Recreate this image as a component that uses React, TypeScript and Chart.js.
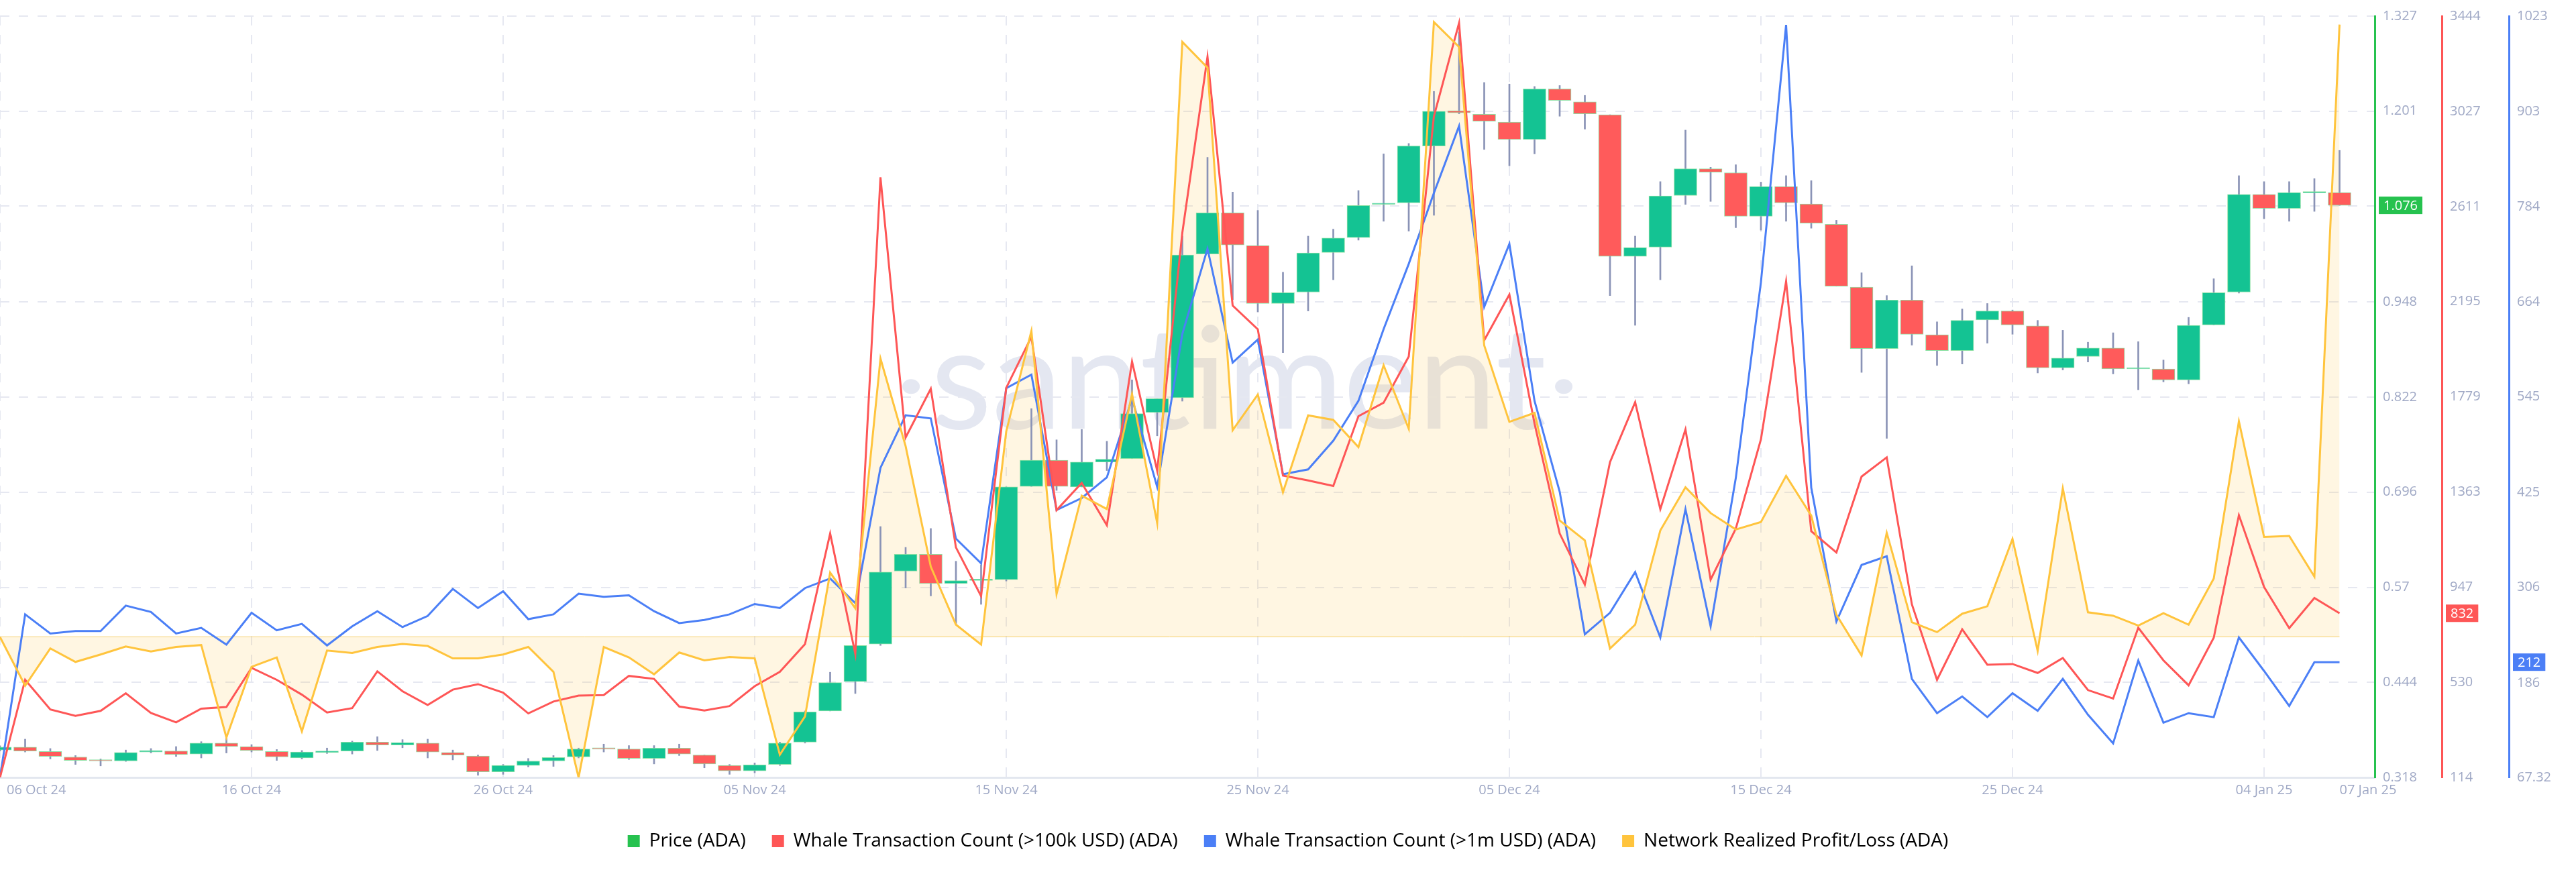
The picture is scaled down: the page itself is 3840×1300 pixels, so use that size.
import React, { useEffect, useRef } from 'react';
import { Chart, registerables } from 'chart.js';

Chart.register(...registerables);

// ---------- data ----------
const X_TICK_DAYS = [0, 10, 20, 30, 40, 50, 60, 70, 80, 90];
const X_TICK_LABELS = ['06 Oct 24', '16 Oct 24', '26 Oct 24', '05 Nov 24', '15 Nov 24', '25 Nov 24', '05 Dec 24', '15 Dec 24', '25 Dec 24', '04 Jan 25'];
const LAST_DAY_LABEL = '07 Jan 25';
const X_MAX_DAY = 94.4;

const PRICE_OPEN = [
  0.3543, 0.3582, 0.3523, 0.3451, 0.3405, 0.3398, 0.3517, 0.3530, 0.3490, 0.3635,
  0.3589, 0.3523, 0.3438, 0.3510, 0.3530, 0.3648, 0.3609, 0.3635, 0.3510, 0.3464,
  0.3254, 0.3339, 0.3398, 0.3451, 0.3556, 0.3556, 0.3431, 0.3569, 0.3477, 0.3339,
  0.3267, 0.3352, 0.3648, 0.4061, 0.4449, 0.4948, 0.5914, 0.6137, 0.5750, 0.5789,
  0.5802, 0.7037, 0.7385, 0.7030, 0.7359, 0.7405, 0.8016, 0.8213, 1.0117, 1.0663,
  1.0229, 0.9461, 0.9612, 1.0137, 1.0334, 1.0774, 1.0794, 1.1549, 1.2016, 1.1970,
  1.1864, 1.1635, 1.2305, 1.2134, 1.1963, 1.0085, 1.0209, 1.0892, 1.1247, 1.1194,
  1.0617, 1.1011, 1.0781, 1.0511, 0.9677, 0.8863, 0.9507, 0.9047, 0.8837, 0.9244,
  0.9362, 0.9165, 0.8607, 0.8758, 0.8870, 0.8594, 0.8594, 0.8449, 0.9178, 0.9612,
  1.0906, 1.0722, 1.0926, 1.0932,
];
const PRICE_HIGH = [
  0.3600, 0.3687, 0.3563, 0.3470, 0.3425, 0.3543, 0.3563, 0.3589, 0.3654, 0.3700,
  0.3615, 0.3550, 0.3537, 0.3569, 0.3661, 0.3720, 0.3681, 0.3687, 0.3543, 0.3477,
  0.3352, 0.3431, 0.3470, 0.3569, 0.3622, 0.3602, 0.3602, 0.3622, 0.3477, 0.3352,
  0.3372, 0.3648, 0.4061, 0.4574, 0.4929, 0.6505, 0.6229, 0.6479, 0.6045, 0.5999,
  0.7030, 0.8068, 0.7654, 0.7792, 0.7635, 0.8449, 0.8200, 1.0354, 1.1398, 1.0938,
  1.0695, 0.9875, 1.0354, 1.0446, 1.0958, 1.1444, 1.1582, 1.2272, 1.3060, 1.2390,
  1.2370, 1.2337, 1.2350, 1.2219, 1.1963, 1.0354, 1.1076, 1.1759, 1.1267, 1.1300,
  1.1070, 1.1155, 1.1089, 1.0564, 0.9868, 0.9566, 0.9960, 0.9218, 0.9388, 0.9461,
  0.9375, 0.9237, 0.9106, 0.8948, 0.9073, 0.8955, 0.8712, 0.9277, 0.9789, 1.1155,
  1.1076, 1.1076, 1.1116, 1.1490,
];
const PRICE_LOW = [
  0.3530, 0.3517, 0.3425, 0.3352, 0.3333, 0.3392, 0.3504, 0.3458, 0.3438, 0.3504,
  0.3517, 0.3405, 0.3425, 0.3497, 0.3490, 0.3537, 0.3573, 0.3438, 0.3412, 0.3208,
  0.3221, 0.3320, 0.3326, 0.3438, 0.3517, 0.3418, 0.3359, 0.3470, 0.3307, 0.3221,
  0.3241, 0.3339, 0.3635, 0.4061, 0.4292, 0.4929, 0.5691, 0.5586, 0.5211, 0.5474,
  0.5783, 0.7037, 0.6984, 0.7030, 0.7247, 0.7405, 0.7707, 0.8167, 1.0117, 0.9513,
  0.9349, 0.8810, 0.9362, 0.9776, 1.0301, 1.0551, 1.0420, 1.0630, 1.1976, 1.1503,
  1.1286, 1.1444, 1.1943, 1.1772, 0.9566, 0.9172, 0.9776, 1.0774, 1.0814, 1.0466,
  1.0433, 1.0551, 1.0459, 0.9690, 0.8548, 0.7674, 0.8909, 0.8640, 0.8659, 0.8935,
  0.9053, 0.8541, 0.8581, 0.8686, 0.8528, 0.8318, 0.8423, 0.8397, 0.9178, 0.9599,
  1.0584, 1.0551, 1.0682, 1.0761,
];
const PRICE_CLOSE = [
  0.3582, 0.3530, 0.3458, 0.3405, 0.3398, 0.3510, 0.3537, 0.3484, 0.3635, 0.3589,
  0.3537, 0.3451, 0.3517, 0.3530, 0.3648, 0.3609, 0.3641, 0.3517, 0.3477, 0.3254,
  0.3339, 0.3398, 0.3444, 0.3556, 0.3554, 0.3431, 0.3569, 0.3490, 0.3359, 0.3267,
  0.3346, 0.3635, 0.4048, 0.4437, 0.4929, 0.5901, 0.6137, 0.5750, 0.5789, 0.5809,
  0.7030, 0.7385, 0.7037, 0.7359, 0.7398, 0.8002, 0.8200, 1.0104, 1.0663, 1.0236,
  0.9461, 0.9605, 1.0131, 1.0328, 1.0761, 1.0787, 1.1549, 1.2009, 1.1989, 1.1878,
  1.1635, 1.2305, 1.2153, 1.1976, 1.0085, 1.0203, 1.0886, 1.1247, 1.1201, 1.0617,
  1.1011, 1.0794, 1.0525, 0.9690, 0.8863, 0.9507, 0.9053, 0.8837, 0.9237, 0.9362,
  0.9178, 0.8607, 0.8738, 0.8870, 0.8594, 0.8600, 0.8449, 0.9172, 0.9605, 1.0906,
  1.0722, 1.0932, 1.0938, 1.0762,
];
const WHALE_100K = [
  114, 541, 411, 383, 405, 482, 396, 355, 415, 422,
  593, 541, 476, 398, 417, 578, 491, 431, 498, 522,
  485, 394, 446, 472, 474, 558, 545, 424, 407, 426,
  513, 576, 697, 1181, 654, 2739, 1601, 1814, 1120, 907,
  1818, 2041, 1283, 1402, 1217, 1933, 1456, 2497, 3266, 2178,
  2074, 1434, 1413, 1389, 1694, 1753, 1955, 3006, 3414, 2026,
  2226, 1662, 1181, 957, 1493, 1755, 1287, 1636, 979, 1202,
  1593, 2284, 1191, 1098, 1430, 1514, 871, 541, 762, 607,
  610, 571, 636, 496, 459, 769, 626, 517, 725, 1261,
  947, 767, 899, 832,
];
const WHALE_1M = [
  67.32, 272, 248, 251, 251, 283, 275, 248, 255, 234,
  274, 252, 260, 233, 257, 276, 256, 270, 304, 280,
  301, 266, 272, 298, 294, 296, 276, 261, 265, 272,
  285, 280, 305, 317, 286, 456, 522, 518, 367, 336,
  556, 573, 403, 418, 444, 543, 432, 624, 731, 588,
  617, 448, 454, 490, 540, 630, 712, 801, 885, 658,
  737, 540, 426, 247, 274, 325, 243, 404, 257, 443,
  689, 1012, 431, 263, 334, 345, 191, 148, 169, 143,
  173, 151, 191, 146, 110, 214, 136, 148, 143, 243,
  201, 157, 212, 212,
];
// Network realized profit/loss (millions ADA)
const NETWORK_RPL = [
  -0.5, -51.6, -12.5, -26.6, -18.8, -10.4, -15.6, -10.9, -8.9, -106,
  -31.8, -21.9, -99.5, -14.6, -17.2, -10.9, -7.8, -9.9, -22.9, -22.9,
  -18.8, -10.9, -37, -148, -10.9, -21.9, -39.6, -16.7, -25, -21.4,
  -22.9, -124, -83.9, 67.2, 29.7, 292, 200, 73.4, 12.5, -8.3,
  215.6, 321, 44.8, 148, 133.9, 254.7, 119.3, 624.5, 597.4, 216.7,
  254.2, 151.6, 232.3, 227.6, 199, 285, 218.2, 645.3, 619.3, 305.7,
  225.5, 234.9, 121.9, 101, -12.5, 12.5, 111.5, 156.8, 129.7, 112.5,
  120.3, 168.8, 127.1, 22.9, -19.8, 108.9, 15.1, 4.7, 24, 31.8,
  102.6, -15.1, 155.7, 25.5, 21.9, 11.5, 24.5, 12.5, 60.9, 226,
  104.7, 105.7, 63, 642.7,
];

const PRICE_TICKS = [0.318, 0.444, 0.57, 0.696, 0.822, 0.948, 1.075, 1.201, 1.327];
const WHALE_100K_TICKS = [114, 530, 947, 1363, 1779, 2195, 2611, 3027, 3444];
const WHALE_1M_TICKS = [67.32, 186, 306, 425, 545, 664, 784, 903, 1023];
const NETWORK_RPL_MIN = -147.9;
const NETWORK_RPL_MAX = 651.6;

const LEGEND_LABELS = ['Price (ADA)', 'Whale Transaction Count (>100k USD) (ADA)', 'Whale Transaction Count (>1m USD) (ADA)', 'Network Realized Profit/Loss (ADA)'];

// ---------- styles ----------
const C_PRICE = '#26c24f';
const C_RED = '#fe5656';
const C_BLUE = '#4b7ff6';
const C_YELLOW = '#ffc43d';
const C_YELLOW_FILL = 'rgba(255, 196, 61, 0.15)';
const C_CANDLE_UP = '#14c393';
const C_CANDLE_DOWN = '#ff5b5b';
const C_CANDLE_EDGE = 'rgba(130, 222, 155, 0.9)';
const C_WICK = '#8a93b6';
const C_GRID = '#e6e8f1';
const C_TICK = '#9fa8c5';
const LEGEND_COLORS = [C_PRICE, C_RED, C_BLUE, C_YELLOW];
const FONT = "'Open Sans', 'Liberation Sans', sans-serif";
const TICK_FONT = { family: FONT, size: 20 };

const overlayPlugin = {
  id: 'overlay',
  beforeDraw(chart: any) {
    const { ctx, chartArea: a } = chart;
    ctx.save();
    const targetW = a.width * 0.2593;
    ctx.font = `400 100px Lato, ${FONT}`;
    const w100 = ctx.measureText('santiment').width;
    const size = (100 * targetW) / w100;
    ctx.font = `400 ${size}px Lato, ${FONT}`;
    const cx = a.left + a.width * 0.5215;
    const base = a.top + a.height * 0.5415;
    ctx.fillStyle = '#e4e7f1';
    ctx.textAlign = 'center';
    ctx.textBaseline = 'alphabetic';
    ctx.fillText('santiment', cx, base);
    const dy = base - a.height * 0.055;
    ctx.beginPath();
    ctx.ellipse(cx - targetW / 2 - 29, dy, 13, 11, 0, 0, Math.PI * 2);
    ctx.ellipse(cx + targetW / 2 + 26, dy, 13, 11, 0, 0, Math.PI * 2);
    ctx.fill();
    ctx.restore();
  },
  beforeDatasetsDraw(chart: any) {
    const { ctx } = chart;
    const x = chart.scales.x;
    const y = chart.scales.yNrpl;
    const py = Math.round(y.getPixelForValue(0)) + 0.5;
    ctx.save();
    ctx.strokeStyle = '#f6cf67';
    ctx.lineWidth = 1;
    ctx.beginPath();
    ctx.moveTo(x.getPixelForValue(0), py);
    ctx.lineTo(x.getPixelForValue(NETWORK_RPL.length - 1), py);
    ctx.stroke();
    ctx.restore();
  },
  afterDraw(chart: any) {
    const { ctx } = chart;
    const xs = chart.scales.x;
    const last = PRICE_CLOSE.length - 1;
    ctx.save();
    ctx.font = `20px ${FONT}`;
    ctx.textBaseline = 'middle';
    ctx.textAlign = 'left';
    // first and last date labels
    ctx.fillStyle = C_TICK;
    const ly = xs.top + 19;
    ctx.fillText(X_TICK_LABELS[0], 10, ly);
    ctx.fillText(LAST_DAY_LABEL, xs.getPixelForValue(last), ly);
    // last value badges
    const badges = [
      { scale: chart.scales.yPrice, value: PRICE_CLOSE[last], text: PRICE_CLOSE[last].toFixed(3), color: C_PRICE },
      { scale: chart.scales.yRed, value: WHALE_100K[last], text: String(Math.round(WHALE_100K[last])), color: C_RED },
      { scale: chart.scales.yBlue, value: WHALE_1M[last], text: String(Math.round(WHALE_1M[last])), color: C_BLUE },
    ];
    badges.forEach((b) => {
      const py = b.scale.getPixelForValue(b.value);
      const w = ctx.measureText(b.text).width + 14;
      ctx.fillStyle = b.color;
      ctx.fillRect(b.scale.left + 6, py - 13, w, 26);
      ctx.fillStyle = '#ffffff';
      ctx.fillText(b.text, b.scale.left + 13, py + 1);
    });
    ctx.restore();
  },
};

export default function App() {
  const ref = useRef<HTMLCanvasElement>(null);

  useEffect(() => {
    document.body.style.margin = '0';
    const canvas = ref.current;
    if (!canvas) return;
    const days = PRICE_OPEN.map((_, i) => i);
    const bodies = days.map((i) => ({ x: i, y: [PRICE_OPEN[i], PRICE_CLOSE[i]] }));
    const wicks = days.map((i) => ({ x: i, y: [PRICE_LOW[i], PRICE_HIGH[i]] }));
    const bodyColors = days.map((i) => (PRICE_CLOSE[i] >= PRICE_OPEN[i] ? C_CANDLE_UP : C_CANDLE_DOWN));

    const rightAxis = (ticks: number[], color: string, weight: number, min: number, max: number, grid: boolean) => ({
      type: 'linear',
      position: 'right',
      weight,
      min,
      max,
      afterBuildTicks: (s: any) => {
        s.ticks = ticks.map((v) => ({ value: v }));
      },
      afterFit: (s: any) => {
        s.width = 100;
      },
      ticks: {
        padding: 12,
        font: TICK_FONT,
        color: C_TICK,
        autoSkip: false,
        callback: (v: any) => String(v),
      },
      grid: { display: grid, color: C_GRID, lineWidth: 2, drawTicks: false },
      border: { display: true, color, width: 3, dash: [14, 14] },
    });

    const chart = new Chart(canvas, {
      type: 'line',
      data: {
        datasets: [
          {
            type: 'line',
            label: LEGEND_LABELS[3],
            data: NETWORK_RPL.map((v, i) => ({ x: i, y: v })),
            yAxisID: 'yNrpl',
            borderColor: C_YELLOW,
            backgroundColor: C_YELLOW_FILL,
            fill: 'origin',
            borderWidth: 3,
            pointRadius: 0,
            tension: 0,
            order: 0,
          },
          {
            type: 'line',
            label: LEGEND_LABELS[1],
            data: WHALE_100K.map((v, i) => ({ x: i, y: v })),
            yAxisID: 'yRed',
            borderColor: C_RED,
            borderWidth: 3,
            pointRadius: 0,
            tension: 0,
            fill: false,
            order: 1,
          },
          {
            type: 'line',
            label: LEGEND_LABELS[2],
            data: WHALE_1M.map((v, i) => ({ x: i, y: v })),
            yAxisID: 'yBlue',
            borderColor: C_BLUE,
            borderWidth: 3,
            pointRadius: 0,
            tension: 0,
            fill: false,
            order: 2,
          },
          {
            type: 'bar',
            label: LEGEND_LABELS[0],
            data: bodies as any,
            yAxisID: 'yPrice',
            backgroundColor: bodyColors,
            borderColor: C_CANDLE_EDGE,
            borderWidth: 1,
            borderSkipped: false,
            barThickness: 34,
            grouped: false,
            minBarLength: 2,
            order: 3,
          },
          {
            type: 'bar',
            label: 'wick',
            data: wicks as any,
            yAxisID: 'yPrice',
            backgroundColor: C_WICK,
            barThickness: 2,
            grouped: false,
            order: 4,
          },
        ] as any,
      },
      options: {
        responsive: false,
        animation: false,
        devicePixelRatio: 1,
        events: [],
        layout: { padding: { top: 14, bottom: 22, left: 0, right: 0 } },
        scales: {
          x: {
            type: 'linear',
            min: 0,
            max: X_MAX_DAY,
            offset: false,
            afterBuildTicks: (s: any) => {
              s.ticks = X_TICK_DAYS.map((v) => ({ value: v }));
            },
            afterFit: (s: any) => {
              s.height = 42;
              s.paddingLeft = 0;
              s.paddingRight = 0;
            },
            ticks: {
              padding: 7,
              maxRotation: 0,
              autoSkip: false,
              font: TICK_FONT,
              color: C_TICK,
              callback: (_v: any, i: number) => (i === 0 ? '' : X_TICK_LABELS[i]),
            },
            grid: { color: C_GRID, lineWidth: 2, drawTicks: false, offset: false },
            border: { display: true, color: '#e3e7ef', width: 3, dash: [14, 14] },
          },
          yPrice: rightAxis(PRICE_TICKS, C_PRICE, 0, PRICE_TICKS[0], PRICE_TICKS[PRICE_TICKS.length - 1], true),
          yRed: rightAxis(WHALE_100K_TICKS, C_RED, 1, WHALE_100K_TICKS[0], WHALE_100K_TICKS[WHALE_100K_TICKS.length - 1], false),
          yBlue: rightAxis(WHALE_1M_TICKS, C_BLUE, 2, WHALE_1M_TICKS[0], WHALE_1M_TICKS[WHALE_1M_TICKS.length - 1], false),
          yNrpl: { type: 'linear', display: false, position: 'right', weight: 10, min: NETWORK_RPL_MIN, max: NETWORK_RPL_MAX },
        } as any,
        plugins: {
          filler: { drawTime: 'beforeDatasetsDraw' },
          tooltip: { enabled: false },
          legend: {
            position: 'bottom',
            labels: {
              boxWidth: 18,
              boxHeight: 18,
              padding: 39,
              color: '#1e2236',
              font: { family: FONT, size: 28 },
              generateLabels: () =>
                LEGEND_LABELS.map((t, i) => ({
                  text: t,
                  fillStyle: LEGEND_COLORS[i],
                  strokeStyle: LEGEND_COLORS[i],
                  lineWidth: 0,
                  hidden: false,
                  datasetIndex: i,
                })),
            },
          },
        } as any,
      },
      plugins: [overlayPlugin],
    });
    return () => chart.destroy();
  }, []);

  return (
    <div style={{ position: 'absolute', left: 0, top: 0, width: 3840, height: 1300 }}>
      <canvas ref={ref} width={3840} height={1300} style={{ display: 'block' }} />
    </div>
  );
}
